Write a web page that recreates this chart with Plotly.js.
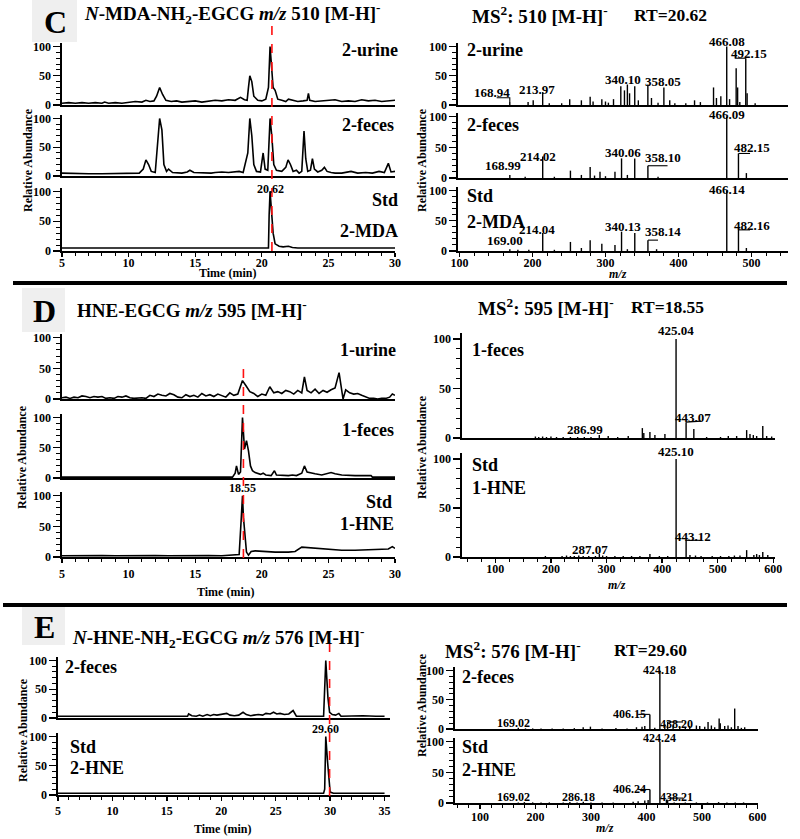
<!DOCTYPE html>
<html><head><meta charset="utf-8">
<script src="https://cdn.plot.ly/plotly-3.0.1.min.js"></script>
<style>html,body{margin:0;padding:0;background:#fff}#chart{width:800px;height:839px}</style>
</head><body><div id="chart"></div>
<script>
// ---------------- DATA ----------------
// Chromatograms: [time (min), relative abundance]
const cUrine = [[5,3],[5.5,4],[6,3],[6.5,4],[7,3],[7.5,4],[8,3],[8.2,5],[8.5,3],[9,4],[9.5,3],[10,4],[10.5,6],[11,5],[11.3,8],[11.6,6],[11.9,7],[12.1,15],[12.33,30],[12.55,18],[12.8,8],[13.2,6],[13.6,7],[14,5],[14.5,6],[15,7],[15.5,5],[16,6],[16.5,8],[17,7],[17.5,9],[18,8],[18.4,13],[18.7,9],[18.9,8],[19.0,30],[19.1,50],[19.25,40],[19.4,15],[19.7,8],[20.0,7],[20.3,10],[20.5,30],[20.62,100],[20.75,60],[20.85,30],[21.0,25],[21.2,10],[21.5,8],[21.8,6],[22.0,10],[22.3,8],[22.7,6],[23.1,7],[23.4,8],[23.5,20],[23.6,8],[24,6],[24.5,7],[25,8],[25.5,9],[26,6],[26.5,7],[27,6],[27.5,9],[28,7],[28.5,8],[29,6],[29.5,7],[30,8]];
const cFeces = [[5,5],[6,4],[7,4],[8,4],[9,4],[10,4],[10.8,5],[11.1,12],[11.3,28],[11.5,20],[11.7,8],[12.0,6],[12.15,45],[12.33,100],[12.5,80],[12.65,20],[12.85,8],[13.0,12],[13.3,6],[14.0,5],[14.4,7],[14.6,10],[14.9,6],[15.5,5],[16.2,5],[16.5,6],[17.0,7],[17.5,6],[18.0,7],[18.3,8],[18.6,6],[18.8,25],[18.95,40],[19.1,100],[19.25,70],[19.4,20],[19.6,8],[19.9,7],[20.1,40],[20.25,12],[20.45,10],[20.62,100],[20.75,70],[20.9,20],[21.1,10],[21.5,8],[21.8,15],[21.97,28],[22.15,20],[22.35,8],[22.6,10],[22.8,5],[23.0,8],[23.17,78],[23.3,30],[23.45,8],[23.65,10],[23.8,30],[23.95,12],[24.2,7],[24.5,10],[24.7,15],[24.9,8],[25.2,6],[25.5,5],[26,5],[26.7,8],[27.2,5],[27.8,6],[28.3,5],[28.8,8],[29.2,6],[29.5,22],[29.7,7],[30,8]];
const cStd = [[5,5],[10,5],[15,5],[20,5],[20.5,5],[20.55,60],[20.62,100],[20.72,70],[20.85,30],[21.0,12],[21.3,8],[21.6,7],[22.0,8],[22.3,6],[22.7,5],[30,5]];
const dUrine = [[5,2],[5.3,3],[5.6,1],[5.9,3],[6.2,2],[6.5,5],[6.8,4],[7.1,2],[7.4,4],[7.7,3],[8,4],[8.3,1],[8.6,2],[8.9,1],[9.2,4],[9.5,3],[9.8,5],[10.1,2],[10.4,1],[10.7,2],[11,2],[11.3,1],[11.6,6],[11.9,4],[12.2,8],[12.5,6],[12.8,5],[13.1,9],[13.4,7],[13.7,3],[14,2],[14.3,7],[14.6,4],[14.9,6],[15.2,3],[15.5,9],[15.8,5],[16.1,7],[16.4,4],[16.7,8],[17,5],[17.3,3],[17.6,10],[17.9,6],[18.2,8],[18.55,30],[18.8,22],[19.1,12],[19.4,9],[19.7,4],[20,8],[20.3,6],[20.6,20],[20.9,10],[21.2,12],[21.5,9],[21.8,14],[22.1,12],[22.4,8],[22.7,14],[23,10],[23.2,36],[23.4,14],[23.7,10],[24,16],[24.3,9],[24.6,14],[24.9,11],[25.2,15],[25.5,18],[25.8,43],[26.0,8],[26.1,0],[26.3,15],[26.6,10],[26.9,8],[27.2,9],[27.5,6],[27.8,3],[28.1,1],[28.4,1],[28.7,0],[29,1],[29.3,1],[29.6,3],[29.8,8],[30,6]];
const dFeces = [[5,1.5],[17.8,1.5],[18.0,8],[18.1,20],[18.25,6],[18.4,10],[18.55,100],[18.7,48],[18.85,62],[19.0,45],[19.15,20],[19.3,12],[19.5,9],[19.7,8],[19.9,6],[20.1,8],[20.3,5],[20.7,4],[20.95,12],[21.1,5],[21.5,4],[22.0,4],[22.3,5],[22.6,4],[23.0,8],[23.2,20],[23.4,10],[23.7,8],[24.0,7],[24.5,5],[25.0,7],[25.2,9],[25.5,7],[26.0,5],[27.0,4],[28.2,4],[28.3,1.5],[30,1.5]];
const dStd = [[5,2],[6,2.5],[7,2],[8,2.5],[9,2],[10,2.5],[11,2],[12,2.5],[13,2],[14,2.5],[15,2],[16,2.5],[17,2],[18,3],[18.3,4],[18.45,60],[18.55,100],[18.62,65],[18.75,30],[18.85,8],[19.0,3],[19.2,9],[19.5,10],[20.0,9],[20.5,9],[21,8],[22,8],[22.5,9],[23.0,16],[23.5,15],[24.0,14],[25.0,12],[26.0,11],[27.0,11],[28.0,12],[29.0,12],[29.5,13],[29.8,17],[30,14]];
const eFeces = [[5,3],[10,3],[15,3],[16.9,3],[17.0,7],[17.3,4],[17.7,3],[18.0,5],[18.3,3],[18.7,6],[19.0,4],[19.3,6],[19.6,5],[20.0,6],[20.5,8],[20.8,5],[21.2,4],[21.6,5],[22.0,10],[22.3,6],[22.7,4],[23.0,5],[23.4,6],[23.8,5],[24.1,8],[24.5,7],[24.8,10],[25.1,7],[25.4,8],[25.8,6],[26.2,7],[26.6,13],[26.9,3],[27.5,3],[28.5,3],[29.4,3],[29.6,100],[29.8,35],[29.95,10],[30.2,6],[30.5,5],[30.8,8],[31.0,3],[32,4],[33,4],[34.2,3],[35,3]];
const eStd = [[5,3],[29.4,3],[29.5,10],[29.6,100],[29.75,60],[29.9,15],[30.0,5],[30.3,3],[35,3]];

// MS2 spectra: m/z and relative abundance
const cUrineMz = [168.94,194,201,213.97,223,240,251,267,279,283,295,300,304,311,321,326,330,333,340.1,345,358.05,363,372,380,388,395,410,422,430,448,452,458,466.08,470,479,481,484,492.15,494,505];
const cUrineI  = [5,5,8,22,3,3,10,8,14,6,10,6,4,10,32,25,35,20,32,8,35,12,4,30,8,3,3,8,5,30,12,15,100,10,63,30,5,80,20,3];
const cFecesMz = [168.99,190,214.02,230,252,267,279,285,292.5,300,313,322,330,340.06,358.10,372,466.09,482.15,493];
const cFecesI  = [5,2,35,2,12,5,18,4,10,3,10,32,5,32,20,2,100,40,8];
const cStdMz = [169.00,180,195,214.04,230,252,267,279,295,313,322,330,340.13,358.14,370,466.14,482.16,493];
const cStdI  = [3,2,2,30,2,15,5,18,12,10,32,3,30,18,3,100,35,5];
const dFecesMz = [172,178,185,192,200,210,222,235,248,260,272,286.99,303,320,339,364.4,367,378,387,405,425.04,443.07,457,480,505,519,534,552,558,564,570,581,588,597];
const dFecesI  = [1.5,1,1.5,1,1.5,1,1,1,1,1,1,3,2,1,2,10,5,6,3,4,100,16,9,1,1,2,2,8,4,3,2,12,2,1.5];
const dStdMz = [190,220,228,235,242,250,258,268,280,287.07,293,300,315,330,345,360,378,395,410,425.10,443.12,450,460,470,490,505,520,530,540,552,565,570,575,581,590];
const dStdI  = [1,1,1.5,1,1,1.5,1,1,1,3,1.5,1,1,1,1,1,3,1,1,100,17,2,1.5,1,1,1,1,1.5,1.5,7,2,3,2,5,2];
const eFecesMz = [169.02,182,195,210,230,250,270,286,299,320,345,365,382,392,397,406.15,415,424.18,433,438.20,448,460,470,478,490,496,505,511,517,523,531,533,541,547,553,559,565,571,577];
const eFecesI  = [2,1,1,1,1,1,1.5,3,4,1,1.5,1,3,4,5,25,2,100,8,12,6,4,3,5,6,5,4,12,6,3,18,10,5,6,3,35,5,2,3];
const eStdMz = [169.02,180,195,210,225,250,262,275,286.18,300,320,340,376,385,397,403,406.24,424.24,436,438.21,450,470,490,510,530,545,560,575];
const eStdI  = [1,1.5,1,1,1,1,1.5,1,2,1,1,1,2,3,4,5,22,100,5,4,1,1,1,1,1.5,1,1,1];

// Peak labels: [text, m/z anchor, abundance anchor]
const cUrineLabels = [['466.08',466.08,108],['492.15',497,88],['340.10',324.5,43],['358.05',379,41],['213.97',206,27],['168.94',144,22]];
const cFecesLabels = [['466.09',466.09,104],['482.15',501,50],['340.06',324.5,42],['358.10',379,34],['214.02',208,35],['168.99',160,21]];
const cStdLabels   = [['466.14',466.14,102],['482.16',501,43],['340.13',324.5,41],['358.14',379,32],['214.04',206,36],['169.00',162,18]];
const dFecesLabels = [['425.04',425.04,109],['443.07',456,21],['286.99',261,9]];
const dStdLabels   = [['425.10',425.10,108],['443.12',456,21],['287.07',270,8]];
const eFecesLabels = [['424.18',424.18,101],['406.15',370,25],['438.20',455,8],['169.02',160,10]];
const eStdLabels   = [['424.24',424.24,106],['406.24',370,23],['438.21',454,9],['169.02',160,9],['286.18',277,9]];
// Leader lines from labels to peaks: lists of [m/z, abundance] points
const cUrineLead = [[[168.94,5],[168.94,12.5],[151,12.5]],[[492.15,80],[477,80]]];
const cFecesLead = [[[482.15,40],[498,40]],[[358.10,20],[385,20]]];
const cStdLead   = [[[482.16,35],[498,35]],[[358.14,18],[372,18]]];
const dFecesLead = [[[443.07,16],[470,17]]];
const dStdLead   = [[[443.12,17],[470,17]]];
const eFecesLead = [[[406.15,25],[385,25]],[[438.20,12],[466,12]]];
const eStdLead   = [[[406.24,22],[385,22]],[[438.21,8],[466,8]]];

// Retention-time markers
const rtC = 20.62, rtD = 18.55, rtE = 29.60;

// ---------------- LAYOUT HELPERS ----------------
const W = 800, H = 839;
const FONT = 'Liberation Serif, Times New Roman, serif';
const YMAX = 106;
const px = v => v / W;
const py = v => 1 - v / H;

// subplot geometry (pixels)
const panels = [
  {xd:[62,395], yd:[43,105],  xr:[5,30], bot:false},
  {xd:[62,395], yd:[115,176], xr:[5,30], bot:false},
  {xd:[62,395], yd:[188,251], xr:[5,30], bot:true, t0:5, dt:5, mdt:1, so:-4},
  {xd:[458,788], yd:[43,105],  xr:[98,550], bot:false},
  {xd:[458,788], yd:[113,178], xr:[98,550], bot:false},
  {xd:[458,788], yd:[187,251], xr:[98,550], bot:true, t0:0, dt:100, mdt:20, so:-4},
  {xd:[62,395], yd:[334,399], xr:[5,30], bot:false},
  {xd:[62,395], yd:[414,478], xr:[5,30], bot:false},
  {xd:[62,395], yd:[492,557], xr:[5,30], bot:true, t0:5, dt:5, mdt:1, so:1},
  {xd:[462,775], yd:[333,438], xr:[40,603], bot:false},
  {xd:[462,775], yd:[453,557], xr:[40,603], bot:true, t0:0, dt:100, mdt:25, so:-4},
  {xd:[58,390], yd:[657,718], xr:[5,35.5], bot:false},
  {xd:[58,390], yd:[733,795], xr:[5,35.5], bot:true, t0:5, dt:5, mdt:1, so:0},
  {xd:[455,758], yd:[667,729], xr:[55,601], bot:false},
  {xd:[455,758], yd:[738,803], xr:[55,601], bot:true, t0:0, dt:100, mdt:20, so:-2}
];

const layout = {
  width: W, height: H, margin:{l:0,r:0,t:0,b:0}, showlegend:false,
  paper_bgcolor:'white', plot_bgcolor:'rgba(0,0,0,0)',
  font:{family:FONT, color:'black'},
  annotations:[], shapes:[]
};
const sfx = i => (i === 1 ? '' : String(i));
const tickFont = {family:FONT, size:12, color:'black', weight:'bold'};

panels.forEach((p, k) => {
  const i = k + 1, s = sfx(i);
  const xa = {
    domain:[px(p.xd[0]), px(p.xd[1])], range:p.xr, anchor:'y'+s,
    showline:true, linecolor:'black', linewidth:1.7, showgrid:false, zeroline:false,
    showticklabels:p.bot, ticks:p.bot?'outside':'', ticklen:4, tickwidth:1.3, tickcolor:'black',
    tickfont:tickFont, fixedrange:true
  };
  if (p.bot) {
    xa.tickmode = 'linear'; xa.tick0 = p.t0; xa.dtick = p.dt;
    xa.ticklabelstandoff = p.so;
    xa.minor = {dtick:p.mdt, ticks:'outside', ticklen:3, tickwidth:1, tickcolor:'black', showgrid:false};
  }
  const ya = {
    domain:[py(p.yd[1]), py(p.yd[0])], range:[0,YMAX], anchor:'x'+s,
    showline:true, linecolor:'black', linewidth:1.7, showgrid:false, zeroline:false,
    ticks:'outside', tickmode:'linear', tick0:0, dtick:50, ticklen:7, tickwidth:1.3, tickcolor:'black',
    minor:{dtick:10, ticks:'outside', ticklen:4, tickwidth:1, tickcolor:'black', showgrid:false},
    tickfont:tickFont, fixedrange:true
  };
  layout['xaxis'+s] = xa;
  layout['yaxis'+s] = ya;
});

// ---------------- TRACES ----------------
const traces = [];
function chrom(pairs, i){
  traces.push({type:'scatter', mode:'lines', x:pairs.map(d=>d[0]), y:pairs.map(d=>d[1]),
    xaxis:'x'+sfx(i), yaxis:'y'+sfx(i), line:{color:'black', width:1.6}, hoverinfo:'skip'});
}
function stick(mz, inten, i){
  const x=[], y=[];
  mz.forEach((m,j)=>{ x.push(m,m,null); y.push(0,inten[j],null); });
  traces.push({type:'scatter', mode:'lines', x, y, xaxis:'x'+sfx(i), yaxis:'y'+sfx(i),
    line:{color:'black', width:1.4}, hoverinfo:'skip'});
}
function leaders(list, i){
  list.forEach(pts => traces.push({type:'scatter', mode:'lines', x:pts.map(d=>d[0]), y:pts.map(d=>d[1]),
    xaxis:'x'+sfx(i), yaxis:'y'+sfx(i), line:{color:'black', width:1.1}, hoverinfo:'skip'}));
}
function peakLabels(list, i, size){
  const p = panels[i-1];
  const pxPerUnit = (p.yd[1]-p.yd[0]) / YMAX;
  list.forEach(l => {
    const over = l[2] > 100;
    layout.annotations.push({xref:'x'+sfx(i), yref:'y'+sfx(i), x:l[1], y: over ? 100 : l[2],
      yshift: over ? (l[2]-100)*pxPerUnit : 0,
      text:'<b>'+l[0]+'</b>', showarrow:false, xanchor:'center', yanchor:'middle',
      font:{family:FONT, size:size, color:'black'}});
  });
}

chrom(cUrine,1); chrom(cFeces,2); chrom(cStd,3);
stick(cUrineMz,cUrineI,4); stick(cFecesMz,cFecesI,5); stick(cStdMz,cStdI,6);
chrom(dUrine,7); chrom(dFeces,8); chrom(dStd,9);
stick(dFecesMz,dFecesI,10); stick(dStdMz,dStdI,11);
chrom(eFeces,12); chrom(eStd,13);
stick(eFecesMz,eFecesI,14); stick(eStdMz,eStdI,15);

leaders(cUrineLead,4); leaders(cFecesLead,5); leaders(cStdLead,6);
leaders(dFecesLead,10); leaders(dStdLead,11);
leaders(eFecesLead,14); leaders(eStdLead,15);

peakLabels(cUrineLabels,4,13); peakLabels(cFecesLabels,5,13); peakLabels(cStdLabels,6,13);
peakLabels(dFecesLabels,10,13); peakLabels(dStdLabels,11,13);
peakLabels(eFecesLabels,14,12); peakLabels(eStdLabels,15,12);

// ---------------- TEXT ----------------
function txt(text, x, y, size, opts){
  layout.annotations.push(Object.assign({xref:'paper', yref:'paper', x:px(x), y:py(y), text:text,
    showarrow:false, xanchor:'center', yanchor:'middle', font:{family:FONT, size:size, color:'black'}}, opts||{}));
}
// panel letters
[['C',32,77,0,42],['D',22,65,288,332],['E',22,65,607,645]].forEach(b=>{
  layout.shapes.push({type:'rect', xref:'paper', yref:'paper', x0:px(b[1]), x1:px(b[2]), y0:py(b[4]), y1:py(b[3]),
    fillcolor:'#efefef', line:{width:0}, layer:'below'});
  txt('<b>'+b[0]+'</b>', (b[1]+b[2])/2+1, (b[3]+b[4])/2+1, 32);
});
// titles
txt('<b><i>N</i>-MDA-NH<sub>2</sub>-EGCG <i>m/z</i> 510 [M-H]<sup>-</sup></b>', 82, 14, 19, {xanchor:'left'});
txt('<b>MS<sup>2</sup>: 510 [M-H]<sup>-</sup></b>', 470, 15, 19, {xanchor:'left'});
txt('<b>RT=20.62</b>', 632, 15, 17.5, {xanchor:'left'});
txt('<b>HNE-EGCG <i>m/z</i> 595 [M-H]<sup>-</sup></b>', 75, 309, 19, {xanchor:'left'});
txt('<b>MS<sup>2</sup>: 595 [M-H]<sup>-</sup></b>', 476, 307, 19, {xanchor:'left'});
txt('<b>RT=18.55</b>', 629, 307, 17.5, {xanchor:'left'});
txt('<b><i>N</i>-HNE-NH<sub>2</sub>-EGCG <i>m/z</i> 576 [M-H]<sup>-</sup></b>', 70, 637, 19, {xanchor:'left'});
txt('<b>MS<sup>2</sup>: 576 [M-H]<sup>-</sup></b>', 443, 650, 19, {xanchor:'left'});
txt('<b>RT=29.60</b>', 612, 650, 17.5, {xanchor:'left'});
// sample labels
const R = {xanchor:'right'}, L = {xanchor:'left'};
txt('<b>2-urine</b>', 400, 50, 18, R); txt('<b>2-feces</b>', 396, 125, 18, R);
txt('<b>Std</b>', 400, 200, 18, R); txt('<b>2-MDA</b>', 400, 231, 18, R);
txt('<b>2-urine</b>', 465, 50, 18, L); txt('<b>2-feces</b>', 465, 125, 18, L);
txt('<b>Std</b>', 465, 196, 18, L); txt('<b>2-MDA</b>', 465, 222, 18, L);
txt('<b>1-urine</b>', 398, 350, 18, R); txt('<b>1-feces</b>', 396, 430, 18, R);
txt('<b>Std</b>', 394, 502, 18, R); txt('<b>1-HNE</b>', 396, 524, 18, R);
txt('<b>1-feces</b>', 470, 350, 18, L); txt('<b>Std</b>', 470, 465, 18, L); txt('<b>1-HNE</b>', 470, 488, 18, L);
txt('<b>2-feces</b>', 63, 667, 18, L); txt('<b>Std</b>', 68, 747, 18, L); txt('<b>2-HNE</b>', 68, 768, 18, L);
txt('<b>2-feces</b>', 460, 677, 18, L); txt('<b>Std</b>', 460, 747, 18, L); txt('<b>2-HNE</b>', 460, 770, 18, L);
// axis titles
txt('<b>Time (min)</b>', 228, 273, 12); txt('<b>Time (min)</b>', 225, 592, 12); txt('<b>Time (min)</b>', 222, 829, 12);
txt('<b><i>m/z</i></b>', 618, 274, 12); txt('<b><i>m/z</i></b>', 617, 585, 12); txt('<b><i>m/z</i></b>', 605, 828, 12);
[[28,160],[422,160],[22,457],[422,447],[23,730],[422,705]].forEach(p => txt('<b>Relative Abundance</b>', p[0], p[1], 12, {textangle:-90}));
// RT labels on standard traces
[[rtC,'x3',189],[rtD,'x9',488],[rtE,'x13',729]].forEach(r => layout.annotations.push({xref:r[1], yref:'paper', x:r[0], y:py(r[2]),
  text:'<b>'+r[0].toFixed(2)+'</b>', showarrow:false, xanchor:'center', yanchor:'middle', font:{family:FONT, size:12, color:'black'}}));
// red dashed RT lines
[[20.76,'x3',18,251],[18.62,'x9',367,558],[29.95,'x13',643,796]].forEach(r => layout.shapes.push({type:'line', xref:r[1], yref:'paper',
  x0:r[0], x1:r[0], y0:py(r[3]), y1:py(r[2]), line:{color:'#ff1010', width:1.6, dash:'dash'}}));
// separators
layout.shapes.push({type:'line', xref:'paper', yref:'paper', x0:px(13), x1:px(787), y0:py(283), y1:py(283), line:{color:'black', width:4}});
layout.shapes.push({type:'line', xref:'paper', yref:'paper', x0:px(3), x1:px(787), y0:py(605), y1:py(605), line:{color:'black', width:4}});

Plotly.newPlot('chart', traces, layout, {staticPlot:true, displayModeBar:false});
</script></body></html>
